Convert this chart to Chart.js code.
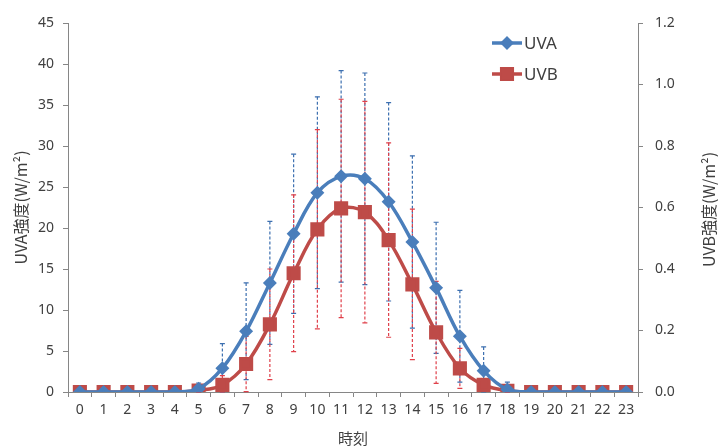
<!DOCTYPE html>
<html>
<head>
<meta charset="utf-8">
<script src="https://cdn.jsdelivr.net/npm/chart.js@4/dist/chart.umd.min.js"></script>
<style>
  body { margin: 0; background: #fff; }
</style>
</head>
<body>
<canvas id="grafico" width="718" height="448"></canvas>
<script>
// ore del giorno
var ore = ['0','1','2','3','4','5','6','7','8','9','10','11','12','13','14','15','16','17','18','19','20','21','22','23'];

// UVA (asse sinistro) e deviazione
var uva    = [0,0,0,0,0,0.4,2.9,7.4,13.3,19.3,24.3,26.3,26.0,23.2,18.3,12.7,6.8,2.6,0.3,0,0,0,0,0];
var uvaErr = [0,0,0,0,0,0.7,3.0,5.9,7.5,9.7,11.7,12.9,12.9,12.1,10.5,8.0,5.6,2.9,0.9,0,0,0,0,0];

// UVB (asse destro) e deviazione
var uvb    = [0,0,0,0,0,0.005,0.023,0.091,0.22,0.386,0.529,0.597,0.585,0.494,0.35,0.194,0.077,0.023,0.004,0,0,0,0,0];
var uvbErr = [0,0,0,0,0,0.005,0.03,0.09,0.18,0.255,0.324,0.355,0.36,0.316,0.245,0.166,0.065,0.02,0.005,0,0,0,0,0];

var titoloX = '時刻';
var titoloSx = 'UVA強度(W/m²)';
var titoloDx = 'UVB強度(W/m²)';

var blu = '#4a7ebb';
var rosso = '#be4b48';
var grigio = '#868686';
var testo = '#404040';
var fontTick = { family: "'Noto Sans', 'Noto Sans CJK JP'", size: 14 };
var fontTitolo = { family: "'Noto Sans CJK JP', 'Noto Sans'", size: 15 };
var fontTitoloY = { family: "'Noto Sans CJK JP', 'Noto Sans'", size: 16 };

// barre di errore tratteggiate
var barreErrore = {
  id: 'barreErrore',
  beforeDatasetsDraw: function(chart) {
    var ctx = chart.ctx;
    var x = chart.scales.x;
    var serie = [
      { val: uva, err: uvaErr, y: chart.scales.y, colore: '#3c6fb0' },
      { val: uvb, err: uvbErr, y: chart.scales.y1, colore: '#e0404a' }
    ];
    ctx.save();
    serie.forEach(function(s) {
      ctx.strokeStyle = s.colore;
      ctx.lineWidth = 1.2;
      for (var i = 0; i < s.val.length; i++) {
        if (!s.err[i]) continue;
        var px = x.getPixelForValue(i);
        var top = s.y.getPixelForValue(s.val[i] + s.err[i]);
        var bot = s.y.getPixelForValue(Math.max(0, s.val[i] - s.err[i]));
        ctx.setLineDash([3, 2]);
        ctx.beginPath();
        ctx.moveTo(px, top);
        ctx.lineTo(px, bot);
        ctx.stroke();
        ctx.setLineDash([]);
        ctx.beginPath();
        ctx.moveTo(px - 2.5, top); ctx.lineTo(px + 2.5, top);
        ctx.moveTo(px - 2.5, bot); ctx.lineTo(px + 2.5, bot);
        ctx.stroke();
      }
    });
    ctx.restore();
  }
};

// legenda dentro l'area del grafico + titolo asse destro (letto dal basso)
var legenda = {
  id: 'legenda',
  afterDraw: function(chart) {
    var ctx = chart.ctx;
    var voci = chart.data.datasets;
    ctx.save();
    voci.forEach(function(d, k) {
      var y = 43 + k * 31;
      ctx.strokeStyle = d.borderColor;
      ctx.lineWidth = 3.5;
      ctx.beginPath();
      ctx.moveTo(492, y);
      ctx.lineTo(522, y);
      ctx.stroke();
      Chart.helpers.drawPoint(ctx, {
        pointStyle: d.pointStyle, radius: d.pointRadius, borderWidth: 1
      }, 507, y);
      ctx.fillStyle = d.backgroundColor;
      ctx.fill();
      ctx.fillStyle = testo;
      ctx.font = "17px 'Noto Sans'";
      ctx.textBaseline = 'middle';
      ctx.fillText(d.label, 524, y + 1);
    });

    var area = chart.chartArea;
    ctx.translate(709, (area.top + area.bottom) / 2 + 2);
    ctx.rotate(-Math.PI / 2);
    ctx.font = Chart.helpers.toFont(fontTitoloY).string;
    ctx.fillStyle = testo;
    ctx.textAlign = 'center';
    ctx.textBaseline = 'middle';
    ctx.fillText(titoloDx, 0, 0);
    ctx.restore();
  }
};

var grafico = new Chart(document.getElementById('grafico'), {
  type: 'line',
  data: {
    labels: ore,
    datasets: [{
      label: 'UVA',
      data: uva,
      yAxisID: 'y',
      borderColor: blu,
      backgroundColor: blu,
      borderWidth: 3.5,
      pointStyle: 'rectRot',
      pointRadius: 4.5,
      tension: 0.35
    }, {
      label: 'UVB',
      data: uvb,
      yAxisID: 'y1',
      borderColor: rosso,
      backgroundColor: rosso,
      borderWidth: 3.5,
      pointStyle: 'rect',
      pointRadius: 7.5,
      tension: 0.35
    }]
  },
  options: {
    responsive: false,
    animation: false,
    layout: { padding: { top: 23, right: 0, left: 0, bottom: 0 } },
    plugins: { legend: { display: false }, tooltip: { enabled: false } },
    scales: {
      x: {
        offset: true,
        grid: { drawOnChartArea: false, offset: true, tickLength: 5, color: grigio },
        border: { color: grigio },
        ticks: { font: fontTick, color: testo, padding: 5, maxRotation: 0, autoSkip: false },
        title: { display: true, text: titoloX, font: fontTitolo, color: testo, padding: { top: 0, bottom: 1 } },
        afterFit: function(s) { s.height = 56; }
      },
      y: {
        position: 'left',
        min: 0, max: 45,
        grid: { drawOnChartArea: false, tickLength: 5, color: grigio },
        border: { color: grigio },
        ticks: { stepSize: 5, font: fontTick, color: testo, padding: 9 },
        title: { display: true, text: titoloSx, font: fontTitoloY, color: testo, padding: { top: 11, bottom: 0 } },
        afterFit: function(s) { s.width = 68; }
      },
      y1: {
        position: 'right',
        min: 0, max: 1.2,
        grid: { drawOnChartArea: false, tickLength: 5, color: grigio },
        border: { color: grigio },
        ticks: { stepSize: 0.2, font: fontTick, color: testo, padding: 12,
          callback: function(v) { return v.toFixed(1); } },
        title: { display: false },
        afterFit: function(s) { s.width = 80; }
      }
    }
  },
  plugins: [barreErrore, legenda]
});
</script>
</body>
</html>
